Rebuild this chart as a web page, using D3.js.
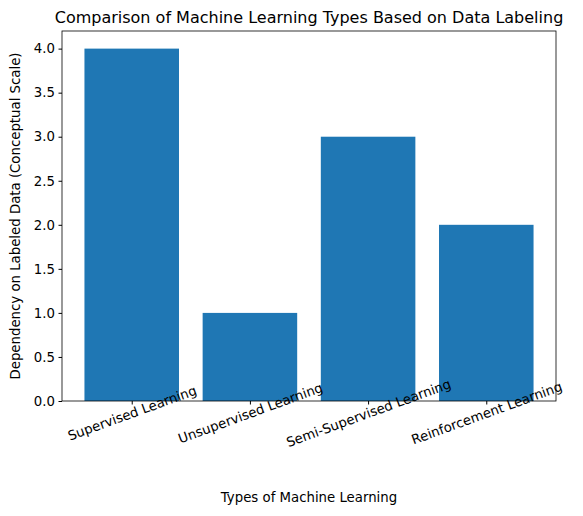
<!DOCTYPE html>
<html><head><script src="https://cdn.jsdelivr.net/npm/d3@7"></script>
<style>body{margin:0;background:#fff}text{font-family:"DejaVu Sans",sans-serif}</style></head>
<body><svg id="c" width="583" height="516"></svg>
<script>
const categories=["Supervised Learning","Unsupervised Learning","Semi-Supervised Learning","Reinforcement Learning"];
const values=[4,1,3,2];
const yTicks=[0,0.5,1,1.5,2,2.5,3,3.5,4];
const svg=d3.select("#c");
const L=62,R=556,T=31,B=401;
const x=d3.scaleLinear().domain([-0.59,3.59]).range([L,R]);
const y=d3.scaleLinear().domain([0,4.2]).range([B,T]);
svg.selectAll("rect.bar").data(values).join("rect").attr("class","bar")
 .attr("x",(d,i)=>x(i-0.4)).attr("width",(d,i)=>x(i+0.4)-x(i-0.4))
 .attr("y",d=>y(d)).attr("height",d=>B-y(d)).attr("fill","#1f77b4");
const ya=svg.append("g").attr("transform",`translate(${L},0)`)
 .call(d3.axisLeft(y).tickValues(yTicks).tickFormat(d3.format(".1f")).tickSize(3.5).tickPadding(3.5));
const xa=svg.append("g").attr("transform",`translate(0,${B})`)
 .call(d3.axisBottom(x).tickValues([0,1,2,3]).tickFormat(i=>categories[i]).tickSize(3.5));
[ya,xa].forEach(a=>{a.select(".domain").remove();a.selectAll("text").attr("font-size",13.3).attr("fill","#000").style("font-family","DejaVu Sans");a.selectAll("line").attr("stroke","#000");});
xa.selectAll("text").attr("transform",function(){return "translate(0,12) rotate(-20)";}).attr("dy","0.35em").attr("y",0).attr("text-anchor","middle");
svg.append("rect").attr("x",L).attr("y",T).attr("width",R-L).attr("height",B-T).attr("fill","none").attr("stroke","#000").attr("stroke-width",0.8);
svg.append("text").attr("x",(L+R)/2).attr("y",23).attr("text-anchor","middle").attr("font-size",16).text("Comparison of Machine Learning Types Based on Data Labeling");
svg.append("text").attr("x",(L+R)/2).attr("y",502).attr("text-anchor","middle").attr("font-size",13.3).text("Types of Machine Learning");
svg.append("text").attr("transform",`translate(20,${(T+B)/2}) rotate(-90)`).attr("text-anchor","middle").attr("font-size",13.3).text("Dependency on Labeled Data (Conceptual Scale)");
</script></body></html>
